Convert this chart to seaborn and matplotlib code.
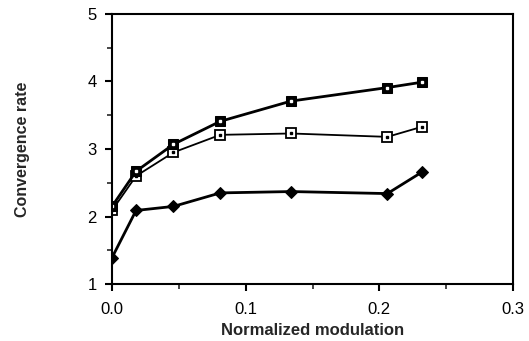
import matplotlib
matplotlib.use("Agg")
import matplotlib.pyplot as plt
import seaborn as sns
import pandas as pd
from matplotlib.ticker import MultipleLocator, FixedLocator

modulation = [0.0, 0.018, 0.046, 0.081, 0.134, 0.206, 0.232]
rate_filled = [2.15, 2.67, 3.07, 3.41, 3.71, 3.91, 3.99]
rate_open = [2.09, 2.60, 2.95, 3.21, 3.23, 3.18, 3.33]
rate_diamond = [1.39, 2.09, 2.15, 2.35, 2.37, 2.34, 2.66]

xticks = [0.0, 0.1, 0.2, 0.3]
xticklabels = ["0.0", "0.1", "0.2", "0.3"]
yticks = [1, 2, 3, 4, 5]

df = pd.DataFrame({
    "x": modulation,
    "filled": rate_filled,
    "open": rate_open,
    "diamond": rate_diamond,
})

sns.set_style("ticks")
plt.rcParams["font.family"] = ["Liberation Sans", "DejaVu Sans"]

fig = plt.figure(figsize=(5.29, 3.41), dpi=100)
ax = fig.add_axes([0.2117, 0.167, 0.7581, 0.792])

# open squares with centre dot
sns.lineplot(data=df, x="x", y="open", ax=ax, color="black", lw=1.3,
             marker="s", markersize=7, markerfacecolor="white",
             markeredgecolor="black", markeredgewidth=1.3)
ax.plot(df["x"], df["open"], ls="none", marker="s", ms=1.5, color="black")

# filled squares with white centre dot
sns.lineplot(data=df, x="x", y="filled", ax=ax, color="black", lw=2,
             marker="s", markersize=7, markerfacecolor="black",
             markeredgecolor="black")
ax.plot(df["x"], df["filled"], ls="none", marker="s", ms=1.5, color="white")

# diamonds
sns.lineplot(data=df, x="x", y="diamond", ax=ax, color="black", lw=2,
             marker="D", markersize=6, markerfacecolor="black",
             markeredgecolor="black")

ax.set_xlim(0, 0.3)
ax.set_ylim(1, 5)
ax.xaxis.set_major_locator(FixedLocator(xticks))
ax.set_xticklabels(xticklabels)
ax.xaxis.set_minor_locator(MultipleLocator(0.05))
ax.yaxis.set_major_locator(FixedLocator(yticks))
ax.yaxis.set_minor_locator(MultipleLocator(0.5))

for s in ax.spines.values():
    s.set_visible(True)
    s.set_linewidth(1.5)
    s.set_color("black")

ax.tick_params(which="major", direction="out", length=5, width=1.5,
               labelsize=12, colors="black", pad=6)
ax.tick_params(axis="x", which="major", pad=8)
ax.tick_params(which="minor", direction="out", length=3.5, width=1.2)

ax.set_xlabel("Normalized modulation", fontsize=12, fontweight="bold", labelpad=4)
ax.set_ylabel("Convergence rate", fontsize=11.5, fontweight="bold", labelpad=41)

fig.savefig("out.png", dpi=100)
plt.close(fig)
